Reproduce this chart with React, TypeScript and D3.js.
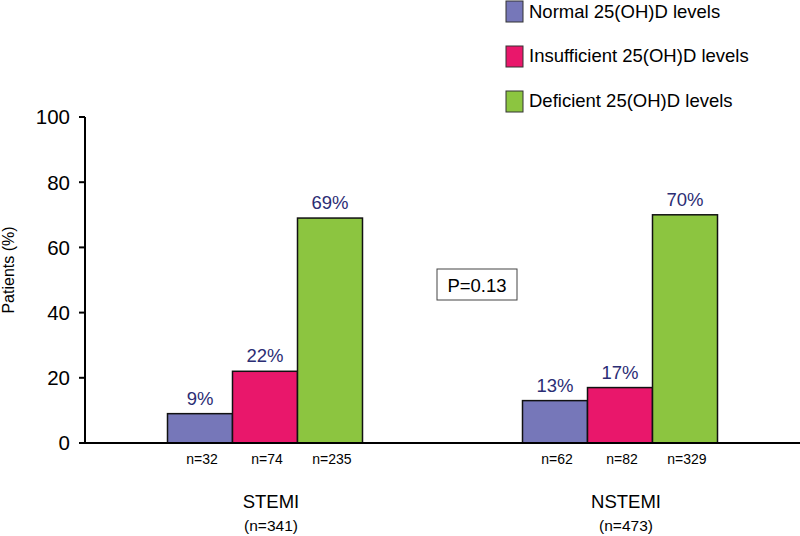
import React from "react";
import * as d3 from "d3";

const groups = ["STEMI", "NSTEMI"];
const groupTotals = ["(n=341)", "(n=473)"];
const seriesNames = ["Normal 25(OH)D levels", "Insufficient 25(OH)D levels", "Deficient 25(OH)D levels"];
const seriesColors = ["#7677b9", "#e9176b", "#8cc540"];
const stemiValues = [9, 22, 69];
const nstemiValues = [13, 17, 70];
const stemiCounts = ["n=32", "n=74", "n=235"];
const nstemiCounts = ["n=62", "n=82", "n=329"];
const yTicks = [0, 20, 40, 60, 80, 100];
const pText = "P=0.13";

const values = [stemiValues, nstemiValues];
const counts = [stemiCounts, nstemiCounts];

const W = 800;
const H = 536;
const FONT = "Liberation Sans, Arial, sans-serif";

export default function App() {
  const y = d3.scaleLinear().domain([0, 100]).range([443, 117]);
  const xGroup = d3.scalePoint<string>().domain(groups).range([265, 620]);
  const xInner = d3.scaleBand<number>().domain([0, 1, 2]).range([-97.5, 97.5]).padding(0);
  const axisX = 85;

  return (
    <svg width={W} height={H} style={{ position: "absolute", left: 0, top: 0, background: "#fff" }} fontFamily={FONT}>
      <rect x={0} y={0} width={W} height={H} fill="#fff" />
      {/* y axis */}
      <line x1={axisX} x2={axisX} y1={y(100)} y2={y(0)} stroke="#000" strokeWidth={2} />
      {yTicks.map((t) => (
        <g key={t}>
          <line x1={axisX - 6} x2={axisX} y1={y(t)} y2={y(t)} stroke="#000" strokeWidth={2} />
          <text x={70} y={y(t)} dy="0.36em" textAnchor="end" fontSize={20.5} fill="#000">{t}</text>
        </g>
      ))}
      <text transform={`translate(14,${(y(0) + y(100)) / 2 - 10}) rotate(-90)`} textAnchor="middle" fontSize={16} fill="#000">Patients (%)</text>

      {/* bars */}
      {groups.map((g, gi) => {
        const cx = xGroup(g)!;
        return (
          <g key={g}>
            {values[gi].map((v, si) => {
              const x0 = cx + xInner(si)!;
              const bw = xInner.bandwidth();
              return (
                <g key={si}>
                  <rect x={x0} y={y(v)} width={bw} height={y(0) - y(v)} fill={seriesColors[si]} stroke="#111" strokeWidth={1.5} />
                  <text x={x0 + bw / 2} y={y(v) - 9} textAnchor="middle" fontSize={18.5} fill="#2b2d74">{`${v}%`}</text>
                  <text x={x0 + bw / 2 + 2} y={464} textAnchor="middle" fontSize={14} fill="#000">{counts[gi][si]}</text>
                </g>
              );
            })}
            <text x={cx + 6} y={508} textAnchor="middle" fontSize={18.5} fill="#000">{g}</text>
            <text x={cx + 6} y={531} textAnchor="middle" fontSize={15.5} fill="#000">{groupTotals[gi]}</text>
          </g>
        );
      })}

      {/* baseline */}
      <line x1={axisX} x2={W} y1={y(0)} y2={y(0)} stroke="#000" strokeWidth={2} />

      {/* P box */}
      <rect x={437} y={269} width={80} height={31} fill="#fff" stroke="#444" strokeWidth={1} />
      <text x={477} y={285} dy="0.36em" textAnchor="middle" fontSize={18.5} fill="#000">{pText}</text>

      {/* legend */}
      {seriesNames.map((s, i) => (
        <g key={s}>
          <rect x={506} y={1 + i * 45} width={17} height={21} fill={seriesColors[i]} stroke="#333" strokeWidth={1} />
          <text x={529} y={11 + i * 44.5} dy="0.36em" fontSize={18.5} fill="#000">{s}</text>
        </g>
      ))}
    </svg>
  );
}
